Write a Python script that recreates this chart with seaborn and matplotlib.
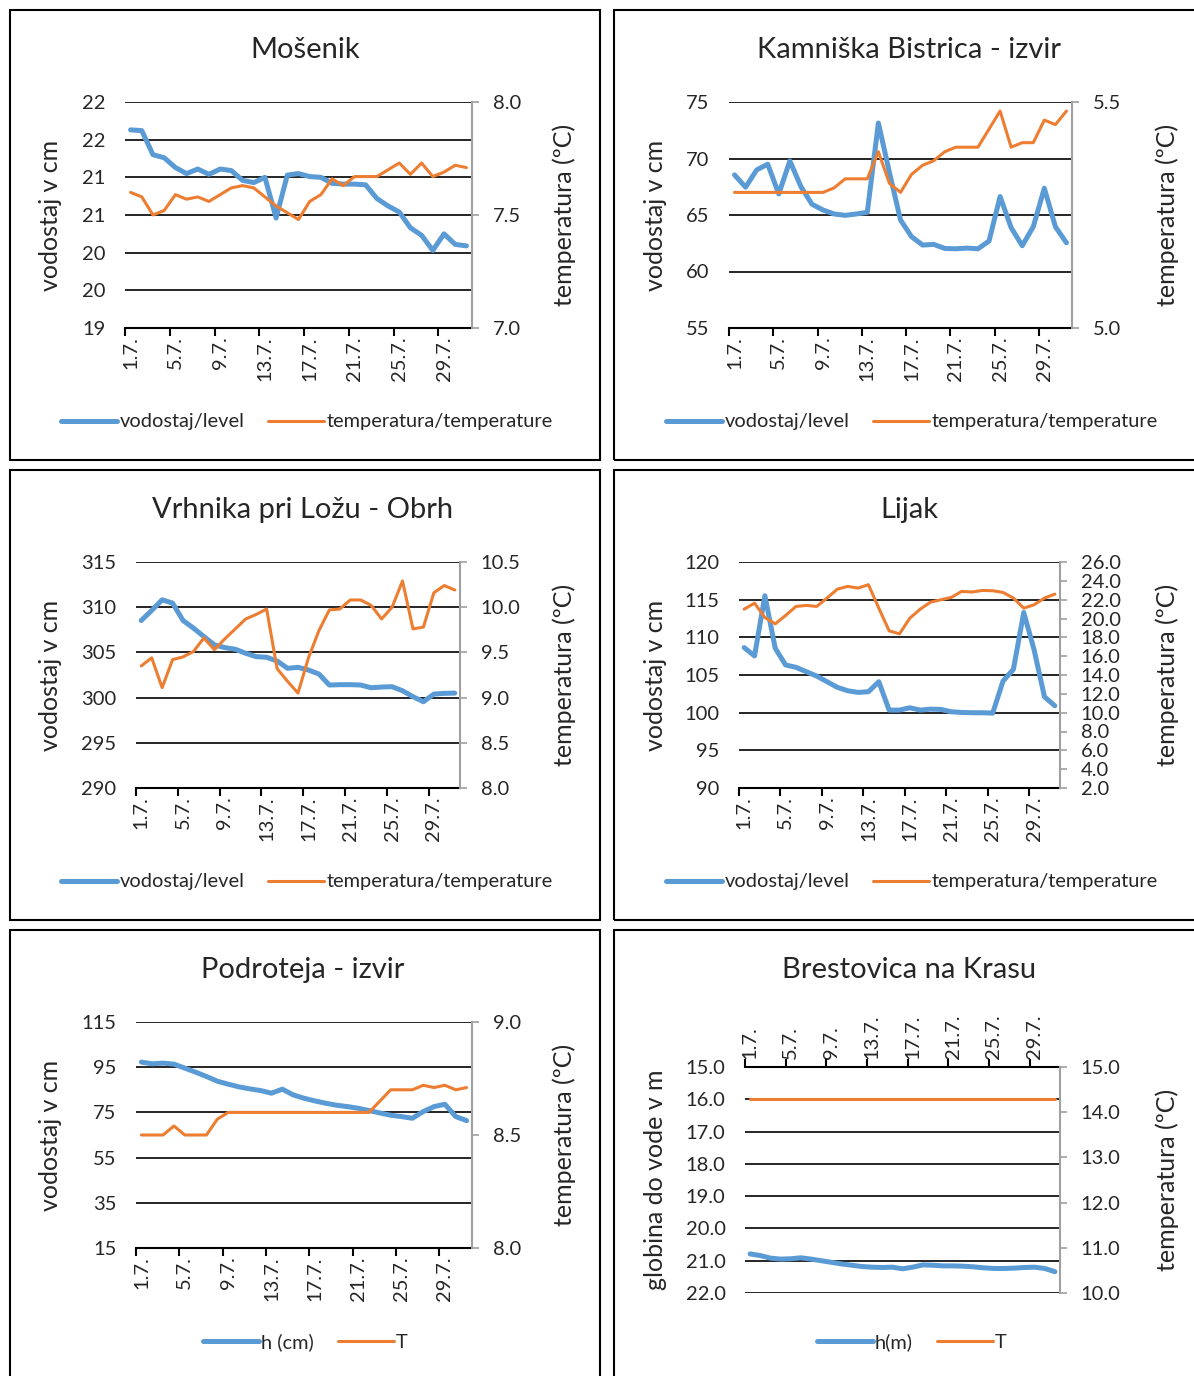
import matplotlib
matplotlib.use("Agg")
import matplotlib.pyplot as plt
import seaborn as sns
from matplotlib.patches import Rectangle

# ---------------- data ----------------

days = list(range(1, 32))
day_ticks = [1, 5, 9, 13, 17, 21, 25, 29]
day_labels = ["1.7.", "5.7.", "9.7.", "13.7.", "17.7.", "21.7.", "25.7.", "29.7."]

# Mošenik
mos_level = [21.63, 21.62, 21.30, 21.26, 21.13, 21.05, 21.11, 21.04, 21.11, 21.09, 20.96,
             20.93, 21.00, 20.46, 21.03, 21.05, 21.01, 21.00, 20.92, 20.91, 20.91, 20.90,
             20.72, 20.62, 20.54, 20.33, 20.23, 20.03, 20.25, 20.11, 20.09]
mos_temp = [7.60, 7.58, 7.50, 7.52, 7.59, 7.57, 7.58, 7.56, 7.59, 7.62, 7.63,
            7.62, 7.58, 7.54, 7.51, 7.48, 7.56, 7.59, 7.66, 7.63, 7.67, 7.67,
            7.67, 7.70, 7.73, 7.68, 7.73, 7.67, 7.69, 7.72, 7.71]
mos_lev_ticks = [19, 19.5, 20, 20.5, 21, 21.5, 22]
mos_lev_labels = ["19", "20", "20", "21", "21", "22", "22"]
mos_tmp_ticks = [7.0, 7.5, 8.0]

# Kamniška Bistrica - izvir
kam_level = [68.55, 67.46, 68.99, 69.50, 66.86, 69.79, 67.51, 65.95, 65.44, 65.09, 64.97,
             65.09, 65.24, 73.14, 68.76, 64.56, 63.08, 62.34, 62.40, 62.04, 62.01, 62.07,
             62.01, 62.69, 66.63, 63.88, 62.28, 63.96, 67.37, 63.96, 62.54]
kam_temp = [5.30, 5.30, 5.30, 5.30, 5.30, 5.30, 5.30, 5.30, 5.30, 5.31, 5.33,
            5.33, 5.33, 5.39, 5.32, 5.30, 5.34, 5.36, 5.37, 5.39, 5.40, 5.40,
            5.40, 5.44, 5.48, 5.40, 5.41, 5.41, 5.46, 5.45, 5.48]
kam_lev_ticks = [55, 60, 65, 70, 75]
kam_tmp_ticks = [5.0, 5.5]

# Vrhnika pri Ložu - Obrh
vrh_level = [308.53, 309.64, 310.82, 310.45, 308.53, 307.68, 306.75, 305.83, 305.53, 305.35,
             304.90, 304.53, 304.46, 304.05, 303.24, 303.35, 303.05, 302.61, 301.39, 301.43,
             301.43, 301.39, 301.09, 301.17, 301.21, 300.76, 300.10, 299.54, 300.39, 300.47,
             300.50]
vrh_temp = [9.35, 9.44, 9.11, 9.42, 9.45, 9.51, 9.66, 9.53, 9.65, 9.76, 9.87,
            9.92, 9.98, 9.32, 9.18, 9.05, 9.44, 9.74, 9.97, 9.98, 10.08, 10.08,
            10.02, 9.87, 10.00, 10.29, 9.76, 9.78, 10.16, 10.24, 10.19]
vrh_lev_ticks = [290, 295, 300, 305, 310, 315]
vrh_tmp_ticks = [8.0, 8.5, 9.0, 9.5, 10.0, 10.5]

# Lijak
lij_level = [108.64, 107.53, 115.52, 108.55, 106.33, 106.02, 105.44, 104.86, 104.11, 103.36,
             102.91, 102.69, 102.78, 104.11, 100.34, 100.34, 100.65, 100.34, 100.47, 100.43,
             100.12, 100.03, 99.99, 99.99, 99.94, 104.20, 105.75, 113.30, 108.33, 102.11,
             100.91]
lij_temp = [20.99, 21.63, 20.11, 19.43, 20.32, 21.28, 21.39, 21.28, 22.17, 23.12, 23.41,
            23.23, 23.59, 21.10, 18.69, 18.37, 20.04, 20.99, 21.74, 21.99, 22.24, 22.88,
            22.81, 22.98, 22.95, 22.77, 22.17, 21.10, 21.46, 22.17, 22.59]
lij_lev_ticks = [90, 95, 100, 105, 110, 115, 120]
lij_tmp_ticks = [2.0, 4.0, 6.0, 8.0, 10.0, 12.0, 14.0, 16.0, 18.0, 20.0, 22.0, 24.0, 26.0]

# Podroteja - izvir
pod_level = [97.25, 96.51, 96.80, 96.36, 94.59, 92.81, 90.89, 88.82, 87.49, 86.30, 85.41,
             84.67, 83.49, 85.27, 82.75, 81.27, 80.09, 79.05, 78.17, 77.57, 76.83, 75.80,
             74.76, 73.73, 73.14, 72.40, 75.36, 77.57, 78.61, 73.14, 71.36]
pod_temp = [8.50, 8.50, 8.50, 8.54, 8.50, 8.50, 8.50, 8.57, 8.60, 8.60, 8.60,
            8.60, 8.60, 8.60, 8.60, 8.60, 8.60, 8.60, 8.60, 8.60, 8.60, 8.60,
            8.65, 8.70, 8.70, 8.70, 8.72, 8.71, 8.72, 8.70, 8.71]
pod_lev_ticks = [15, 35, 55, 75, 95, 115]
pod_tmp_ticks = [8.0, 8.5, 9.0]

# Brestovica na Krasu (depth to water, inverted axis)
bre_depth = [20.79, 20.84, 20.92, 20.95, 20.94, 20.91, 20.95, 21.00, 21.05, 21.10, 21.14,
             21.18, 21.20, 21.21, 21.20, 21.25, 21.20, 21.13, 21.14, 21.16, 21.16, 21.17,
             21.19, 21.22, 21.24, 21.24, 21.23, 21.21, 21.20, 21.24, 21.34]
bre_temp = [14.3] * 31
bre_lev_ticks = [15, 16, 17, 18, 19, 20, 21, 22]
bre_tmp_ticks = [10.0, 11.0, 12.0, 13.0, 14.0, 15.0]

# ---------------- plotting ----------------

sns.set_theme(style="white")
plt.rcParams["font.family"] = ["Lato", "DejaVu Sans"]

BLUE = "#5B9BD5"
ORANGE = "#ED7D31"
GREY = "#A0A0A0"
TICK_FS = 14.5
LABEL_FS = 18
TITLE_FS = 21
LEGEND_FS = 14.4
W, H = 1194, 1376

fig = plt.figure(figsize=(W / 100, H / 100), dpi=100)


def rect(x0, y0, x1, y1):
    return [x0 / W, 1 - y1 / H, (x1 - x0) / W, (y1 - y0) / H]


# panel frames
for bx0, by0, bx1, by1 in [(10, 10, 600, 460), (614, 10, 1210, 460),
                           (10, 470, 600, 920), (614, 470, 1210, 920),
                           (10, 930, 600, 1390), (614, 930, 1210, 1390)]:
    fig.add_artist(Rectangle((bx0 / W, 1 - by1 / H), (bx1 - bx0) / W, (by1 - by0) / H,
                             transform=fig.transFigure, fill=False, ec="black", lw=1.5))


def panel(box, title, title_xy, level, temp, lev_ticks, lev_labels, tmp_ticks,
          left_label, left_x, right_x, leg_labels, leg_xy, inverted=False):
    x0, y0, x1, y1 = box
    ax = fig.add_axes(rect(*box))
    sns.lineplot(x=days, y=level, ax=ax, color=BLUE, lw=3.6, label=leg_labels[0],
                 legend=False)
    ax.set_xlim(0.5, 31.5)
    if inverted:
        ax.set_ylim(lev_ticks[-1], lev_ticks[0])
    else:
        ax.set_ylim(lev_ticks[0], lev_ticks[-1])
    ax.set_yticks(lev_ticks)
    ax.set_yticklabels(lev_labels, fontsize=TICK_FS)
    ax.grid(axis="y", color="black", lw=1.2)
    ax.grid(axis="x", visible=False)
    for s in ["left", "right", "top", "bottom"]:
        ax.spines[s].set_visible(False)
    ax.tick_params(axis="y", length=0, pad=14)

    # category axis: labels at day centres, tick marks on boundaries
    ax.set_xticks(day_ticks)
    ax.set_xticks([d - 0.5 for d in day_ticks], minor=True)
    if inverted:
        ax.xaxis.tick_top()
        ax.spines["top"].set_visible(True)
        ax.spines["top"].set_color("black")
        ax.spines["top"].set_linewidth(1.5)
        ax.set_xticklabels(day_labels, rotation=90, fontsize=TICK_FS, va="bottom")
    else:
        ax.spines["bottom"].set_visible(True)
        ax.spines["bottom"].set_color("black")
        ax.spines["bottom"].set_linewidth(1.5)
        ax.set_xticklabels(day_labels, rotation=90, fontsize=TICK_FS)
    ax.tick_params(axis="x", which="major", length=0, pad=6)
    ax.tick_params(axis="x", which="minor", length=6, width=1.5, color="black",
                   direction="out", bottom=not inverted, top=inverted)
    ax.set_xlabel("")
    ax.set_ylabel(left_label, fontsize=LABEL_FS)
    ax.yaxis.set_label_coords((left_x - x0) / (x1 - x0), 0.5)

    ax2 = ax.twinx()
    sns.lineplot(x=days, y=temp, ax=ax2, color=ORANGE, lw=2.2, label=leg_labels[1],
                 legend=False)
    ax2.set_ylim(tmp_ticks[0], tmp_ticks[-1])
    ax2.set_yticks(tmp_ticks)
    ax2.set_yticklabels([f"{t:.1f}" for t in tmp_ticks], fontsize=TICK_FS)
    ax2.grid(False)
    for s in ["left", "top", "bottom"]:
        ax2.spines[s].set_visible(False)
    ax2.spines["right"].set_color(GREY)
    ax2.spines["right"].set_linewidth(1.5)
    ax2.tick_params(axis="y", length=5, width=1.2, color=GREY, direction="out", pad=10)
    ax2.set_ylabel("temperatura (ºC)", fontsize=LABEL_FS)
    ax2.yaxis.set_label_coords((right_x - x0) / (x1 - x0), 0.5)

    fig.text(title_xy[0] / W, 1 - title_xy[1] / H, title, ha="center", va="center",
             fontsize=TITLE_FS)
    handles = [ax.get_lines()[0], ax2.get_lines()[0]]
    ax.legend(handles, leg_labels, loc="center", ncol=2, frameon=False, fontsize=LEGEND_FS,
              bbox_to_anchor=(leg_xy[0] / W, 1 - leg_xy[1] / H),
              bbox_transform=fig.transFigure, handlelength=2.8, handletextpad=0.1,
              columnspacing=1.2)


fmt0 = lambda vals: [f"{v:.0f}" for v in vals]
fmt1 = lambda vals: [f"{v:.1f}" for v in vals]
lev_leg = ["vodostaj/level", "temperatura/temperature"]

panel((125, 102, 472, 328), "Mošenik", (305, 50), mos_level, mos_temp,
      mos_lev_ticks, mos_lev_labels, mos_tmp_ticks, "vodostaj v cm", 62, 552,
      lev_leg, (307, 422))
panel((729, 102, 1072, 328), "Kamniška Bistrica - izvir", (909, 50), kam_level, kam_temp,
      kam_lev_ticks, fmt0(kam_lev_ticks), kam_tmp_ticks, "vodostaj v cm", 667, 1155,
      lev_leg, (912, 422))
panel((136, 562, 460, 788), "Vrhnika pri Ložu - Obrh", (303, 510), vrh_level, vrh_temp,
      vrh_lev_ticks, fmt0(vrh_lev_ticks), vrh_tmp_ticks, "vodostaj v cm", 62, 552,
      lev_leg, (307, 882))
panel((739, 562, 1060, 788), "Lijak", (909, 510), lij_level, lij_temp,
      lij_lev_ticks, fmt0(lij_lev_ticks), lij_tmp_ticks, "vodostaj v cm", 667, 1155,
      lev_leg, (912, 882))
panel((136, 1022, 472, 1248), "Podroteja - izvir", (303, 970), pod_level, pod_temp,
      pod_lev_ticks, fmt0(pod_lev_ticks), pod_tmp_ticks, "vodostaj v cm", 62, 552,
      ["h (cm)", "T"], (305, 1342))
panel((745, 1067, 1060, 1293), "Brestovica na Krasu", (909, 970), bre_depth, bre_temp,
      bre_lev_ticks, fmt1(bre_lev_ticks), bre_tmp_ticks, "globina do vode v m", 667, 1155,
      ["h(m)", "T"], (912, 1342), inverted=True)

fig.savefig("out.png", dpi=100, facecolor="white")
